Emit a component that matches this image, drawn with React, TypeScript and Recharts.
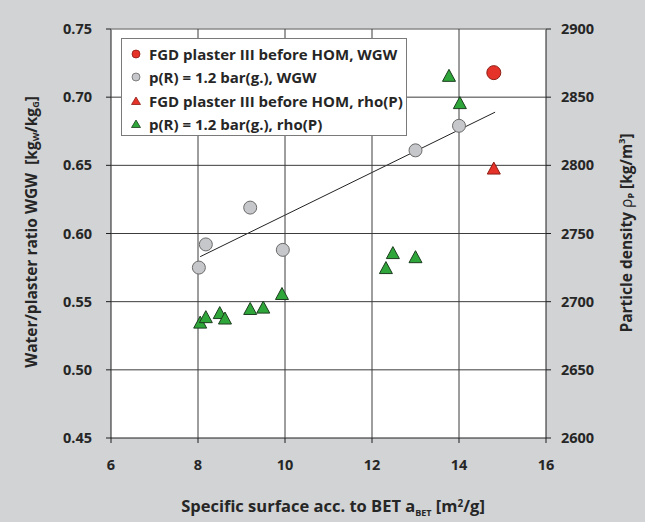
import React from 'react'
import {
  ScatterChart, Scatter, XAxis, YAxis, CartesianGrid, ReferenceLine,
} from 'recharts'

// values
const xTicks = [6, 8, 10, 12, 14, 16]
const xGrid = [8, 10, 12, 14]
const wgwTicks = [0.45, 0.5, 0.55, 0.6, 0.65, 0.7, 0.75]
const wgwGrid = [0.5, 0.55, 0.6, 0.65, 0.7, 0.75]
const rhoTicks = [2600, 2650, 2700, 2750, 2800, 2850, 2900]

const beforeWgwX = [14.8]
const beforeWgwY = [0.718]
const wgwX = [8.02, 8.18, 9.2, 9.95, 13.0, 14.0]
const wgwY = [0.575, 0.592, 0.619, 0.588, 0.661, 0.679]

const beforeRhoX = [14.8]
const beforeRhoY = [2798]
const rhoX = [8.05, 8.18, 8.5, 8.62, 9.2, 9.5, 9.93, 12.32, 12.48, 13.0, 13.77, 14.02]
const rhoY = [2685, 2689, 2692, 2688, 2695, 2696, 2706, 2725, 2736, 2733, 2866, 2846]

const trendX = [8.05, 14.83]
const trendY = [0.583, 0.689]

const LEGEND = [
  'FGD plaster III before HOM, WGW',
  'p(R) = 1.2 bar(g.), WGW',
  'FGD plaster III before HOM, rho(P)',
  'p(R) = 1.2 bar(g.), rho(P)',
]

const C = {
  bg: '#d1d3d5', text: '#262626', grid: '#3c3c3c', axis: '#1e1e1e',
  red: '#e5332a', redEdge: '#8c1d14', gray: '#c6c7ca', grayEdge: '#6a6a6a',
  green: '#2fa63a', greenEdge: '#1c3d1f',
}
const FONT = '"Open Sans", "DejaVu Sans", sans-serif'
const X_DOMAIN = [6, 16]
const Y_DOMAIN = [0.45, 0.75]

const zip = (xs: number[], ys: number[]) => xs.map((x, i) => ({ x, y: ys[i] }))

const dot = (fill: string, stroke: string, r: number) => (p: any) =>
  <circle cx={p.cx} cy={p.cy} r={r} fill={fill} stroke={stroke} strokeWidth={1} />

const tri = (fill: string, stroke: string, w: number, h: number) => (p: any) =>
  <polygon
    points={`${p.cx - w / 2},${p.cy + h / 2} ${p.cx + w / 2},${p.cy + h / 2} ${p.cx},${p.cy - h / 2}`}
    fill={fill} stroke={stroke} strokeWidth={1} />

const noMark = () => <g />

const tickStyle = { fontSize: 14.5, fontWeight: 700, fill: C.text, fontFamily: FONT }

function LegendBox() {
  const marks = [
    <circle cx={6} cy={7} r={4} fill={C.red} stroke={C.redEdge} strokeWidth={0.8} />,
    <circle cx={6} cy={7} r={4} fill={C.gray} stroke={C.grayEdge} strokeWidth={0.8} />,
    <polygon points="1.5,10.5 10.5,10.5 6,3" fill={C.red} stroke={C.redEdge} strokeWidth={0.8} />,
    <polygon points="1.5,10.5 10.5,10.5 6,3" fill={C.green} stroke={C.greenEdge} strokeWidth={0.8} />,
  ]
  return (
    <div style={{
      position: 'absolute', left: 121, top: 38, width: 286, height: 98,
      background: '#fff', border: '1px solid #7a7a7a', boxSizing: 'border-box',
      padding: '3px 0 0 8px',
    }}>
      {LEGEND.map((l, i) => (
        <div key={l} style={{ display: 'flex', alignItems: 'center', height: 23.5 }}>
          <svg width={12} height={14} style={{ marginRight: 7 }}>{marks[i]}</svg>
          <span style={{ fontFamily: FONT, fontWeight: 700, fontSize: 15, color: C.text, whiteSpace: 'nowrap' }}>{l}</span>
        </div>
      ))}
    </div>
  )
}

export default function App() {
  return (
    <div style={{ position: 'relative', width: 645, height: 522, background: C.bg }}>
      <style>{'body{margin:0}'}</style>
      <ScatterChart width={645} height={522} margin={{ top: 29, right: 39, bottom: 54, left: 51 }}>
        <CartesianGrid fill="#fff" horizontal={false} vertical={false} />
        <XAxis dataKey="x" type="number" domain={X_DOMAIN} ticks={xTicks} height={30}
          axisLine={{ stroke: C.axis }} tickLine={{ stroke: C.axis }} tickSize={5} tickMargin={17}
          tick={tickStyle} interval={0} />
        <YAxis dataKey="y" type="number" domain={Y_DOMAIN} ticks={wgwTicks} width={60}
          tickFormatter={(v: number) => v.toFixed(2)} axisLine={{ stroke: C.axis }} tickLine={{ stroke: C.axis }}
          tickSize={5} tickMargin={14} tick={tickStyle} interval={0} />
        <YAxis yAxisId="right" orientation="right" dataKey="y" type="number" domain={[2600, 2900]} ticks={rhoTicks}
          width={60} axisLine={{ stroke: C.axis }} tickLine={{ stroke: C.axis }} tickSize={5} tickMargin={10}
          tick={{ ...tickStyle, textAnchor: 'start' }} interval={0} />
        {/* grid drawn as two-point scatter lines */}
        {wgwGrid.map(v => (
          <Scatter key={'h' + v} data={zip(X_DOMAIN, [v, v])} shape={noMark} legendType="none"
            line={{ stroke: v === 0.75 ? '#8a8a8a' : C.grid, strokeWidth: v === 0.75 ? 1.5 : 1 }}
            isAnimationActive={false} />
        ))}
        {xGrid.map(v => (
          <Scatter key={'v' + v} data={zip([v, v], Y_DOMAIN)} shape={noMark} legendType="none"
            line={{ stroke: C.grid, strokeWidth: 1 }} isAnimationActive={false} />
        ))}
        <ReferenceLine segment={zip(trendX, trendY)} stroke="#222" strokeWidth={1} />
        <Scatter data={zip(wgwX, wgwY)} shape={dot(C.gray, C.grayEdge, 6.5)} isAnimationActive={false} />
        <Scatter data={zip(beforeWgwX, beforeWgwY)} shape={dot(C.red, C.redEdge, 7)} isAnimationActive={false} />
        <Scatter yAxisId="right" data={zip(rhoX, rhoY)} shape={tri(C.green, C.greenEdge, 13, 12)} isAnimationActive={false} />
        <Scatter yAxisId="right" data={zip(beforeRhoX, beforeRhoY)} shape={tri(C.red, C.redEdge, 13, 12)} isAnimationActive={false} />
        <text x={33} y={232} transform="rotate(-90 33 232)" textAnchor="middle" dominantBaseline="middle"
          style={{ fontFamily: FONT, fontWeight: 700, fontSize: 15.5, fill: C.text }}>
          Water/plaster ratio WGW{'\u00a0\u00a0'}[kg<tspan dy={4} fontSize={9}>W</tspan><tspan dy={-4}>/kg</tspan><tspan dy={4} fontSize={9}>G</tspan><tspan dy={-4}>]</tspan>
        </text>
        <text x={628} y={233} transform="rotate(-90 628 233)" textAnchor="middle" dominantBaseline="middle"
          style={{ fontFamily: FONT, fontWeight: 700, fontSize: 15.5, fill: C.text }}>
          Particle density <tspan fontWeight={400}>ρ</tspan><tspan dy={4} fontSize={9}>P</tspan><tspan dy={-4}> [kg/m</tspan><tspan dy={-5} fontSize={9}>3</tspan><tspan dy={5}>]</tspan>
        </text>
        <text x={333} y={512} textAnchor="middle"
          style={{ fontFamily: FONT, fontWeight: 700, fontSize: 16.5, fill: C.text }}>
          Specific surface acc. to BET a<tspan dy={4} fontSize={9}>BET</tspan><tspan dy={-4}> [m</tspan><tspan dy={-5} fontSize={10}>2</tspan><tspan dy={5}>/g]</tspan>
        </text>
      </ScatterChart>
      <LegendBox />
    </div>
  )
}
